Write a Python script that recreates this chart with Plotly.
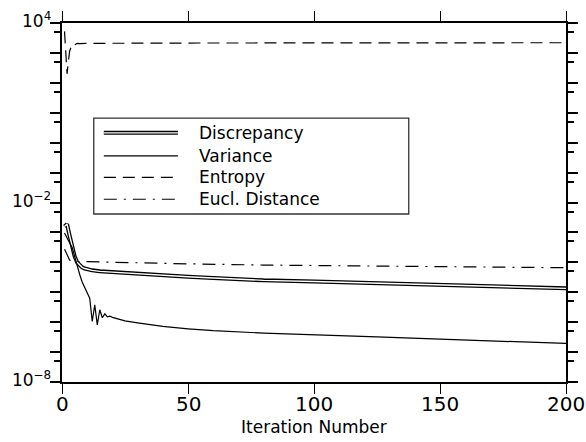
import plotly.graph_objects as go

# ---------------- data ----------------
series_names = ["Discrepancy", "Variance", "Entropy", "Eucl. Distance"]

disc_x = [1, 2, 3, 4, 5, 6, 7, 8, 9, 10, 12, 15, 20, 25, 30, 40, 50, 60, 80, 100, 125, 150, 175, 200]
disc_y = [1.58e-3, 1.9e-3, 7.9e-4, 3.5e-4, 1.6e-4, 1.0e-4, 7.9e-5, 6.8e-5, 6.2e-5, 5.9e-5,
          5.4e-5, 5.0e-5, 4.7e-5, 4.3e-5, 4.0e-5, 3.6e-5, 3.3e-5, 3.0e-5, 2.5e-5, 2.3e-5,
          2.0e-5, 1.8e-5, 1.55e-5, 1.35e-5]

var_x = [1, 2, 3, 4, 5, 6, 7, 8, 9, 10, 11, 12, 13, 14, 15, 16, 17, 18, 19, 20,
         25, 30, 40, 50, 60, 80, 100, 125, 150, 175, 200]
var_y = [9.5e-4, 6.3e-4, 4.5e-4, 3.2e-4, 1.6e-4, 7.1e-5, 4.0e-5, 2.2e-5, 1.4e-5, 8.9e-6,
         6.3e-6, 1.05e-6, 3.8e-6, 8.1e-7, 2.6e-6, 1.4e-6, 1.9e-6, 1.5e-6, 1.6e-6, 1.45e-6,
         1.1e-6, 9.5e-7, 7.2e-7, 6.0e-7, 5.2e-7, 4.3e-7, 3.7e-7, 3.2e-7, 2.7e-7, 2.3e-7, 1.95e-7]

ent_x = [1, 2, 3, 4, 5, 6, 7, 8, 10, 50, 100, 150, 200]
ent_y = [5250, 200, 1120, 2000, 1860, 2090, 2040, 2090, 2090, 2140, 2140, 2190, 2190]

eucl_x = [1, 2, 3, 4, 5, 10, 25, 50, 80, 100, 125, 150, 200]
eucl_y = [2.75e-4, 1.8e-4, 1.2e-4, 1.12e-4, 1.07e-4, 1.05e-4, 9.8e-5, 8.9e-5, 8.1e-5,
          7.8e-5, 7.2e-5, 6.9e-5, 6.6e-5]

x_ticks = [0, 50, 100, 150, 200]
y_major_exp = list(range(-8, 5))
y_minor_exp = list(range(-8, 4))
y_label_exp = [-8, -2, 4]
x_title = "Iteration Number"

# ---------------- figure ----------------
FONT = "DejaVu Sans"
DASH_E = "12px,7px"
DASH_D = "13px,7px,2px,7px"

fig = go.Figure()
# Discrepancy as a double line: black thick + white core
fig.add_trace(go.Scatter(x=disc_x, y=disc_y, mode="lines",
                         line=dict(color="black", width=4), showlegend=False))
fig.add_trace(go.Scatter(x=disc_x, y=disc_y, mode="lines",
                         line=dict(color="white", width=1.4), showlegend=False))
fig.add_trace(go.Scatter(x=var_x, y=var_y, mode="lines",
                         line=dict(color="black", width=1.2), showlegend=False))
fig.add_trace(go.Scatter(x=ent_x, y=ent_y, mode="lines",
                         line=dict(color="black", width=1.2, dash=DASH_E), showlegend=False))
fig.add_trace(go.Scatter(x=eucl_x, y=eucl_y, mode="lines",
                         line=dict(color="black", width=1.2, dash=DASH_D), showlegend=False))

# ---------------- manual legend ----------------
lx0, lx1 = 0.063, 0.688
ly0, ly1 = 0.468, 0.735
sx0, sx1 = 0.083, 0.230
tx = 0.268
rows = [0.694, 0.630, 0.570, 0.509]
fig.add_shape(type="rect", xref="paper", yref="paper", x0=lx0, x1=lx1, y0=ly0, y1=ly1,
              line=dict(color="#333", width=1.3), fillcolor="white", layer="above")
styles = [None, dict(color="black", width=1.2), dict(color="black", width=1.2, dash=DASH_E),
          dict(color="black", width=1.2, dash=DASH_D)]
for i, (name, ry) in enumerate(zip(series_names, rows)):
    if i == 0:
        fig.add_shape(type="line", xref="paper", yref="paper", x0=sx0, x1=sx1, y0=ry, y1=ry,
                      line=dict(color="black", width=4), layer="above")
        fig.add_shape(type="line", xref="paper", yref="paper", x0=sx0, x1=sx1, y0=ry, y1=ry,
                      line=dict(color="white", width=1.4), layer="above")
    else:
        fig.add_shape(type="line", xref="paper", yref="paper", x0=sx0, x1=sx1, y0=ry, y1=ry,
                      line=styles[i], layer="above")
    fig.add_annotation(x=tx, y=ry, xref="paper", yref="paper", text=name, showarrow=False,
                       xanchor="left", yanchor="middle", font=dict(family=FONT, size=17, color="black"))

# ---------------- tick labels as annotations (placed close to the axes) ----------------
for e in y_label_exp:
    sign = "−" if e < 0 else ""
    fig.add_annotation(x=-0.018, y=e, xref="paper", yref="y", showarrow=False,
                       text=f"10<sup>{sign}{abs(e)}</sup>", xanchor="right", yanchor="middle",
                       yshift=3, font=dict(family=FONT, size=17, color="black"))
for xv in x_ticks:
    fig.add_annotation(x=xv, y=-0.061, xref="x", yref="paper", showarrow=False,
                       text=str(xv), xanchor="center", yanchor="middle",
                       font=dict(family=FONT, size=20, color="black"))
fig.add_annotation(x=0.5, y=-0.125, xref="paper", yref="paper", showarrow=False,
                   text=x_title, xanchor="center", yanchor="middle",
                   font=dict(family=FONT, size=17, color="black"))

fig.update_layout(
    width=586, height=442,
    margin=dict(l=62, r=20, t=23, b=60),
    plot_bgcolor="white", paper_bgcolor="white",
    font=dict(family=FONT, color="black"),
    xaxis=dict(range=[0, 200], tickvals=x_ticks, ticks="outside", ticklen=10, tickwidth=1,
               tickcolor="black", showline=True, linecolor="black", linewidth=1.5,
               mirror="ticks", showgrid=False, zeroline=False, automargin=False,
               showticklabels=False),
    yaxis=dict(type="log", range=[-8, 4], tickvals=[10.0 ** e for e in y_major_exp],
               ticks="outside", ticklen=10, tickwidth=1.5, tickcolor="black",
               minor=dict(tickvals=[5 * 10.0 ** e for e in y_minor_exp], ticks="outside",
                          ticklen=6, tickwidth=1.5, tickcolor="black", showgrid=False),
               showline=True, linecolor="black", linewidth=1.5, mirror="ticks",
               showgrid=False, zeroline=False, automargin=False, showticklabels=False),
)

fig.write_html("out.html", config={"displayModeBar": False},
               post_script="document.body.style.margin='0';document.body.style.overflow='hidden';")
